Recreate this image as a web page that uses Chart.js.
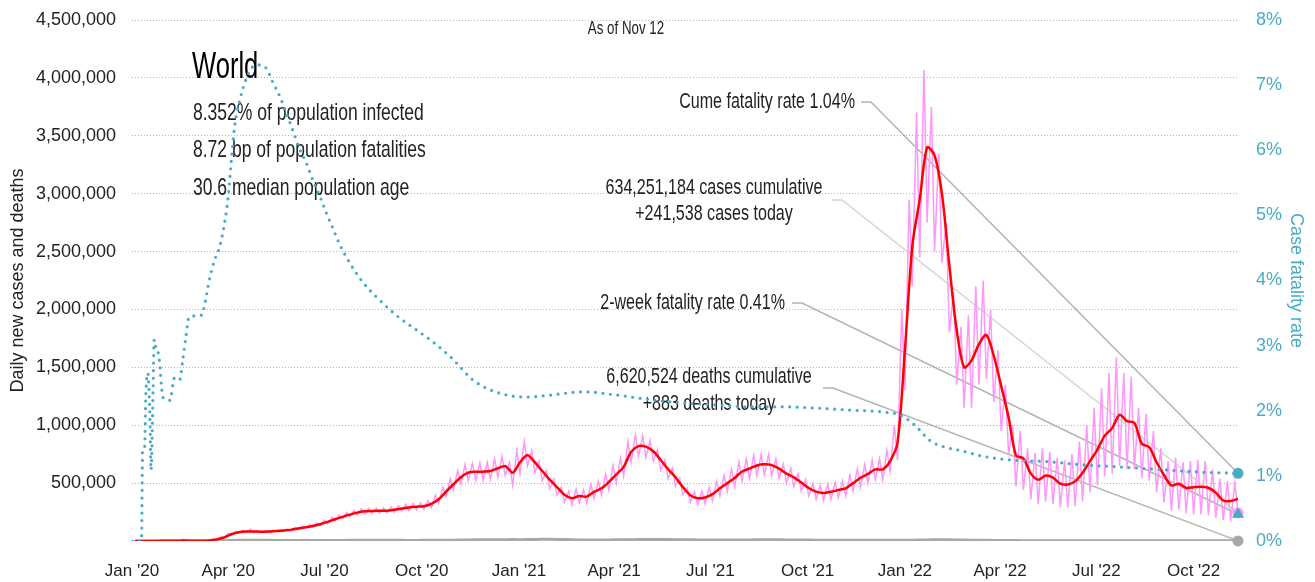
<!DOCTYPE html>
<html>
<head>
<meta charset="utf-8">
<script src="https://cdn.jsdelivr.net/npm/chart.js@4.4.0/dist/chart.umd.min.js"></script>
<style>
  html, body { margin: 0; padding: 0; background: #fff; }
  #wrap { width: 1315px; height: 582px; }
</style>
</head>
<body>
<div id="wrap"><canvas id="chart" width="1315" height="582"></canvas></div>
<script>
// x axis is "days since Jan 1 2020"
const tickDays = [0, 91, 182, 274, 366, 456, 547, 639, 731, 821, 912, 1004];
const tickLabels = ["Jan '20", "Apr '20", "Jul '20", "Oct '20", "Jan '21", "Apr '21",
  "Jul '21", "Oct '21", "Jan '22", "Apr '22", "Jul '22", "Oct '22"];
const lastDay = 1046; // Nov 12 2022

// weekly values in thousands, week w sits on day 7w+3
const cases7day = [
  0, 0, 0, 0.5, 2, 3, 3, 4, 2, 2,
  5, 14, 30, 58, 75, 82, 82, 80, 82, 86,
  90, 96, 108, 118, 130, 145, 165, 188, 208, 228,
  245, 256, 260, 262, 262, 270, 280, 290, 296, 300,
  320, 360, 426, 490, 550, 590, 598, 599, 605, 628,
  648, 590, 680, 740, 680, 605, 530, 465, 400, 370,
  389, 383, 425, 455, 510, 575, 640, 770, 820, 815,
  775, 700, 620, 550, 465, 395, 370, 376, 405, 455,
  500, 545, 600, 625, 652, 662, 655, 625, 582, 550,
  505, 458, 426, 415, 425, 440, 455, 500, 545, 580,
  619, 619, 690, 850, 1650, 2550, 2950, 3400, 3330, 3000,
  2380, 1820, 1500, 1560, 1700, 1780, 1600, 1340, 1070, 740,
  714, 584, 530, 565, 548, 495, 488, 515, 590, 690,
  790, 910, 975, 1090, 1035, 1020, 840, 812, 680, 570,
  480, 495, 458, 465, 469, 460, 418, 350, 345, 365
];
// daily new cases: weekly peak (day 7w) and trough (day 7w+3), thousands
const casesHigh = [
  0, 0, 0, 1, 3, 4, 4, 15, 3, 3,
  6, 17, 36, 66, 85, 92, 104, 88, 90, 94,
  98, 105, 118, 128, 142, 158, 180, 205, 225, 248,
  265, 278, 282, 285, 285, 295, 305, 318, 325, 330,
  350, 395, 465, 540, 610, 660, 670, 675, 680, 710,
  730, 680, 780, 860, 780, 690, 610, 535, 465, 430,
  450, 440, 490, 520, 580, 650, 720, 860, 915, 910,
  870, 790, 700, 630, 540, 455, 425, 430, 465, 520,
  570, 620, 680, 710, 740, 750, 745, 710, 665, 630,
  580, 530, 495, 480, 490, 505, 520, 570, 625, 660,
  700, 710, 780, 1000, 2000, 2950, 3700, 4070, 3750, 3350,
  2750, 2150, 1850, 1950, 2200, 2250, 2000, 1650, 1350, 1000,
  950, 800, 760, 800, 770, 720, 700, 750, 860, 1000,
  1150, 1320, 1450, 1590, 1450, 1420, 1150, 1100, 950, 800,
  690, 720, 680, 690, 700, 690, 620, 540, 520, 500
];
const casesLow = [
  0, 0, 0, 0, 2, 3, 3, 3, 2, 2,
  4, 11, 26, 50, 68, 74, 74, 72, 74, 78,
  82, 88, 98, 108, 118, 132, 150, 172, 190, 210,
  225, 236, 238, 240, 240, 248, 255, 262, 268, 272,
  290, 325, 385, 440, 490, 520, 525, 525, 530, 550,
  565, 480, 580, 650, 590, 520, 450, 395, 335, 310,
  330, 325, 365, 395, 440, 500, 560, 680, 730, 720,
  690, 610, 540, 475, 400, 335, 315, 320, 345, 390,
  430, 470, 520, 540, 560, 570, 565, 540, 500, 470,
  430, 390, 360, 350, 360, 375, 390, 430, 465, 500,
  530, 530, 600, 700, 1300, 2200, 2450, 2750, 2500, 2400,
  1800, 1350, 1150, 1150, 1350, 1400, 1200, 950, 750, 470,
  440, 360, 320, 340, 320, 290, 290, 300, 340, 420,
  480, 560, 580, 650, 620, 620, 540, 520, 420, 330,
  260, 270, 240, 230, 230, 220, 200, 180, 170, 241.538
];
const deaths7day = [
  0, 0, 0, 0, 0.05, 0.1, 0.1, 0.2, 0.1, 0.1,
  0.2, 0.5, 1.5, 3.5, 6, 7, 7, 6.5, 5.5, 5,
  4.5, 4.5, 4.5, 4.5, 4.5, 4.5, 4.5, 5, 5.3, 5.5,
  5.8, 6, 6, 5.8, 5.6, 5.5, 5.4, 5.3, 5.3, 5.4,
  5.5, 5.8, 6.2, 7, 7.8, 9, 10, 10.8, 11, 11.5,
  11.8, 12, 11.5, 12.5, 14, 14.5, 14.2, 13.5, 12, 10.5,
  9, 8.5, 8.5, 8.8, 9.2, 9.8, 10.5, 11.5, 12.5, 13.5,
  13.7, 13.5, 12.5, 11.5, 10.5, 10, 9, 8, 7.8, 7.8,
  8, 8.3, 8.8, 9.3, 9.8, 10, 10.2, 10, 9.6, 9,
  8.5, 8, 7.5, 7.2, 7, 7, 7, 7, 7, 7,
  7, 7, 6.8, 6.5, 6.5, 7, 8, 9.5, 10.5, 11,
  10.5, 9.5, 8.5, 7.5, 6.5, 5.5, 5, 4.5, 4, 3.5,
  3.2, 3, 2.8, 2.5, 2.3, 2, 1.8, 1.8, 1.9, 2,
  2.1, 2.2, 2.3, 2.4, 2.5, 2.5, 2.4, 2.3, 2.1, 2,
  1.8, 1.6, 1.5, 1.5, 1.4, 1.4, 1.3, 1.2, 1.1, 0.883
];

// cumulative case fatality rate, %
const cfrDays = [0, 7, 9, 10, 12, 13, 15, 17, 18, 20, 21, 23, 25, 28, 29, 36, 40, 45, 48, 51,
  54, 66, 69, 73, 78, 83, 88, 91, 94, 97, 102, 107, 113, 119, 127, 133, 140, 146, 152, 159,
  165, 171, 178, 184, 190, 196, 206, 219, 231, 244, 256, 269, 282, 294, 301, 326, 374, 395, 427, 459,
  490, 521, 553, 585, 616, 648, 679, 711, 727, 741, 754, 767, 786, 805, 834, 865, 899, 931, 970, 1008,
  1046];
const cfrRate = [0, 0, 0, 1.40, 1.45, 2.2, 2.58, 1.86, 1.09, 2.37, 3.09, 2.93, 2.88, 2.37, 2.21, 2.16, 2.50, 2.47, 2.78, 3.14,
  3.44, 3.47, 3.65, 4.0, 4.31, 4.52, 4.93, 5.29, 5.85, 6.36, 6.77, 7.05, 7.26, 7.31, 7.26, 7.05, 6.82, 6.57, 6.31, 6.0,
  5.80, 5.54, 5.28, 5.03, 4.80, 4.57, 4.27, 3.96, 3.75, 3.55, 3.39, 3.24, 3.09, 2.93, 2.83, 2.43, 2.21, 2.24, 2.29, 2.24,
  2.17, 2.12, 2.09, 2.06, 2.06, 2.04, 2.01, 1.98, 1.93, 1.77, 1.55, 1.45, 1.38, 1.30, 1.24, 1.22, 1.17, 1.14, 1.10, 1.06,
  1.04];

const cumeFatality = 1.04;
const twoWeekFatality = 0.41;
const casesToday = 241538;
const deathsToday = 883;

const infoLines = ["8.352% of population infected", "8.72 bp of population fatalities", "30.6 median population age"];

const FAM = "'Liberation Sans', Arial, sans-serif";
const TEAL = "#4aabc5";
const PINK = "rgb(255,150,250)";

Chart.defaults.font.family = FAM;
Chart.defaults.color = "#222";

// build points
const redPts = cases7day.map((v, w) => ({ x: 7 * w + 3, y: v * 1000 }));
const deathPts = deaths7day.map((v, w) => ({ x: 7 * w + 3, y: v * 1000 }));
const pinkPts = [];
casesHigh.forEach((v, w) => {
  pinkPts.push({ x: 7 * w, y: v * 1000 });
  pinkPts.push({ x: 7 * w + 3, y: casesLow[w] * 1000 });
});
const cfrPts = cfrDays.map((d, i) => ({ x: d, y: cfrRate[i] }));

// leader notes: text block + line to the end value
const leaders = [
  { lines: ["Cume fatality rate 1.04%"], align: "right", tx: 855, ty: [102], sx: 861, sy: 102, axis: "y1", value: cumeFatality, color: "#b3b3b3" },
  { lines: ["634,251,184 cases cumulative", "+241,538 cases today"], align: "center", tx: 714, ty: [188, 214], sx: 832, sy: 200, axis: "y", value: casesToday, color: "#d4d4d4" },
  { lines: ["2-week fatality rate 0.41%"], align: "right", tx: 785, ty: [303], sx: 792, sy: 303, axis: "y1", value: twoWeekFatality, color: "#b3b3b3" },
  { lines: ["6,620,524 deaths cumulative", "+883 deaths today"], align: "center", tx: 709, ty: [377, 404], sx: 823, sy: 388, axis: "y", value: deathsToday, color: "#b3b3b3" }
];

// condensed text: squeeze a regular face horizontally
function narrowText(ctx, text, x, y, size, squeeze) {
  ctx.save();
  ctx.font = size + "px " + FAM;
  ctx.translate(x, y);
  ctx.scale(squeeze, 1);
  ctx.fillText(text, 0, 0);
  ctx.restore();
}

const notes = {
  id: "notes",
  beforeDatasetsDraw(chart) {
    const { ctx, scales } = chart;
    ctx.save();
    ctx.textBaseline = "middle";
    ctx.fillStyle = "#222";
    ctx.textAlign = "center";
    narrowText(ctx, "As of Nov 12", 626, 29, 18, 0.74);

    ctx.textAlign = "left";
    ctx.fillStyle = "#000";
    narrowText(ctx, "World", 192, 68, 36, 0.71);
    ctx.fillStyle = "#222";
    [113, 150, 188].forEach((yy, i) => narrowText(ctx, infoLines[i], 193, yy, 24, 0.73));

    const ex = scales.x.getPixelForValue(lastDay);
    leaders.forEach(l => {
      const ey = scales[l.axis].getPixelForValue(l.value);
      ctx.strokeStyle = l.color;
      ctx.lineWidth = 1.5;
      ctx.beginPath();
      ctx.moveTo(l.sx, l.sy);
      ctx.lineTo(l.sx + 10, l.sy);
      ctx.lineTo(ex, ey);
      ctx.stroke();
      ctx.textAlign = l.align;
      l.lines.forEach((t, i) => narrowText(ctx, t, l.tx, l.ty[i], 22, 0.73));
    });
    ctx.restore();
  }
};

const marker = (pt, axis, style, color, r, order) => ({
  data: [pt], yAxisID: axis, order: order, clip: false,
  showLine: false, pointStyle: style, pointRadius: r,
  pointBackgroundColor: color, pointBorderColor: color, pointBorderWidth: 0
});

new Chart(document.getElementById("chart"), {
  type: "line",
  data: {
    datasets: [
      { data: deathPts, yAxisID: "y", borderColor: "#a8a8a8", borderWidth: 3, pointRadius: 0, order: 6 },
      { data: pinkPts, yAxisID: "y", borderColor: PINK, borderWidth: 1.5, pointRadius: 0, order: 5 },
      { data: redPts, yAxisID: "y", borderColor: "#ff0000", borderWidth: 2.5, pointRadius: 0, tension: 0.3, order: 4 },
      { data: cfrPts, yAxisID: "y1", borderColor: TEAL, borderWidth: 3.2, borderDash: [0, 7.5], borderCapStyle: "round",
        pointRadius: 0, cubicInterpolationMode: "monotone", order: 3 },
      marker({ x: lastDay, y: deathsToday }, "y", "circle", "#a8a8a8", 5.5, 2.5),
      marker({ x: lastDay, y: casesToday }, "y", "circle", PINK, 5.5, 2),
      marker({ x: lastDay, y: cumeFatality }, "y1", "circle", TEAL, 5.5, 1),
      marker({ x: lastDay, y: twoWeekFatality }, "y1", "triangle", TEAL, 7, 0)
    ]
  },
  options: {
    responsive: false,
    animation: false,
    devicePixelRatio: 1,
    layout: { padding: { top: 20, left: 0, right: 0, bottom: 0 } },
    plugins: { legend: { display: false }, tooltip: { enabled: false } },
    scales: {
      x: {
        type: "linear", min: 0, max: lastDay,
        grid: { display: false }, border: { display: false },
        afterBuildTicks: s => { s.ticks = tickDays.map(v => ({ value: v })); },
        ticks: {
          autoSkip: false, maxRotation: 0, padding: 12,
          font: { size: 17 }, color: "#222",
          callback: v => tickLabels[tickDays.indexOf(v)]
        },
        afterFit: s => { s.height = 41; s.paddingLeft = 0; s.paddingRight = 0; }
      },
      y: {
        position: "left", min: 0, max: 4500000,
        border: { display: false, dash: [1, 2] },
        grid: { color: c => (c.tick && c.tick.value === 0 ? "rgba(0,0,0,0)" : "#b5b5b5"), lineWidth: 1, drawTicks: false },
        ticks: {
          stepSize: 500000, padding: 16, font: { size: 18 }, color: "#222",
          callback: v => (v === 0 ? "" : v.toLocaleString("en-US"))
        },
        title: { display: true, text: "Daily new cases and deaths", font: { size: 18 }, color: "#222", padding: { top: 7, bottom: 0 } },
        afterFit: s => { s.width = 132; s.paddingTop = 0; s.paddingBottom = 0; }
      },
      y1: {
        position: "right", min: 0, max: 8,
        border: { display: false },
        grid: { drawOnChartArea: false, drawTicks: false },
        ticks: { stepSize: 1, padding: 18, font: { size: 18 }, color: TEAL, callback: v => v + "%" },
        title: { display: true, text: "Case fatality rate", font: { size: 18 }, color: TEAL, padding: { top: 8, bottom: 0 } },
        afterFit: s => { s.width = 77; s.paddingTop = 0; s.paddingBottom = 0; }
      }
    }
  },
  plugins: [notes]
});
</script>
</body>
</html>
